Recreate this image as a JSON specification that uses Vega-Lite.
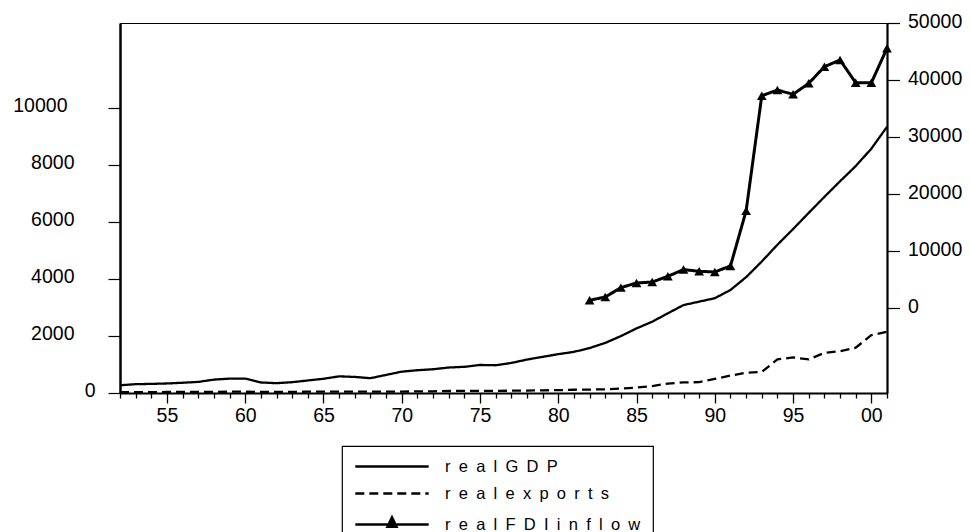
{
  "$schema": "https://vega.github.io/schema/vega-lite/v6.json",
  "autosize": "none",
  "width": 767,
  "height": 370,
  "padding": {"left": 120, "top": 23, "right": 83, "bottom": 139},
  "background": "white",
  "config": {
    "font": "Liberation Sans",
    "view": {"stroke": "black", "strokeWidth": 1},
    "axis": {"labelFont": "Liberation Sans", "labelFontSize": 19.5, "labelColor": "black", "tickColor": "black", "domainColor": "black", "grid": false, "title": null}
  },
  "data": {"values": [
    {"year":1952,"series":"real GDP","value":272},{"year":1953,"series":"real GDP","value":310},{"year":1954,"series":"real GDP","value":320},{"year":1955,"series":"real GDP","value":335},{"year":1956,"series":"real GDP","value":360},{"year":1957,"series":"real GDP","value":390},{"year":1958,"series":"real GDP","value":470},{"year":1959,"series":"real GDP","value":505},{"year":1960,"series":"real GDP","value":505},{"year":1961,"series":"real GDP","value":370},{"year":1962,"series":"real GDP","value":345},{"year":1963,"series":"real GDP","value":380},{"year":1964,"series":"real GDP","value":440},{"year":1965,"series":"real GDP","value":500},{"year":1966,"series":"real GDP","value":585},{"year":1967,"series":"real GDP","value":565},{"year":1968,"series":"real GDP","value":520},{"year":1969,"series":"real GDP","value":635},{"year":1970,"series":"real GDP","value":750},{"year":1971,"series":"real GDP","value":800},{"year":1972,"series":"real GDP","value":835},{"year":1973,"series":"real GDP","value":895},{"year":1974,"series":"real GDP","value":920},{"year":1975,"series":"real GDP","value":985},{"year":1976,"series":"real GDP","value":975},{"year":1977,"series":"real GDP","value":1055},{"year":1978,"series":"real GDP","value":1175},{"year":1979,"series":"real GDP","value":1270},{"year":1980,"series":"real GDP","value":1365},{"year":1981,"series":"real GDP","value":1445},{"year":1982,"series":"real GDP","value":1580},{"year":1983,"series":"real GDP","value":1760},{"year":1984,"series":"real GDP","value":2000},{"year":1985,"series":"real GDP","value":2270},{"year":1986,"series":"real GDP","value":2505},{"year":1987,"series":"real GDP","value":2800},{"year":1988,"series":"real GDP","value":3090},{"year":1989,"series":"real GDP","value":3210},{"year":1990,"series":"real GDP","value":3330},{"year":1991,"series":"real GDP","value":3620},{"year":1992,"series":"real GDP","value":4070},{"year":1993,"series":"real GDP","value":4620},{"year":1994,"series":"real GDP","value":5210},{"year":1995,"series":"real GDP","value":5760},{"year":1996,"series":"real GDP","value":6330},{"year":1997,"series":"real GDP","value":6890},{"year":1998,"series":"real GDP","value":7440},{"year":1999,"series":"real GDP","value":7970},{"year":2000,"series":"real GDP","value":8585},{"year":2001,"series":"real GDP","value":9350},
    {"year":1952,"series":"real exports","value":30},{"year":1953,"series":"real exports","value":30},{"year":1954,"series":"real exports","value":30},{"year":1955,"series":"real exports","value":35},{"year":1956,"series":"real exports","value":35},{"year":1957,"series":"real exports","value":40},{"year":1958,"series":"real exports","value":40},{"year":1959,"series":"real exports","value":45},{"year":1960,"series":"real exports","value":45},{"year":1961,"series":"real exports","value":40},{"year":1962,"series":"real exports","value":40},{"year":1963,"series":"real exports","value":40},{"year":1964,"series":"real exports","value":45},{"year":1965,"series":"real exports","value":50},{"year":1966,"series":"real exports","value":50},{"year":1967,"series":"real exports","value":50},{"year":1968,"series":"real exports","value":50},{"year":1969,"series":"real exports","value":50},{"year":1970,"series":"real exports","value":50},{"year":1971,"series":"real exports","value":55},{"year":1972,"series":"real exports","value":60},{"year":1973,"series":"real exports","value":70},{"year":1974,"series":"real exports","value":75},{"year":1975,"series":"real exports","value":75},{"year":1976,"series":"real exports","value":75},{"year":1977,"series":"real exports","value":80},{"year":1978,"series":"real exports","value":85},{"year":1979,"series":"real exports","value":95},{"year":1980,"series":"real exports","value":100},{"year":1981,"series":"real exports","value":115},{"year":1982,"series":"real exports","value":120},{"year":1983,"series":"real exports","value":130},{"year":1984,"series":"real exports","value":155},{"year":1985,"series":"real exports","value":190},{"year":1986,"series":"real exports","value":245},{"year":1987,"series":"real exports","value":330},{"year":1988,"series":"real exports","value":375},{"year":1989,"series":"real exports","value":380},{"year":1990,"series":"real exports","value":495},{"year":1991,"series":"real exports","value":610},{"year":1992,"series":"real exports","value":715},{"year":1993,"series":"real exports","value":740},{"year":1994,"series":"real exports","value":1180},{"year":1995,"series":"real exports","value":1250},{"year":1996,"series":"real exports","value":1180},{"year":1997,"series":"real exports","value":1410},{"year":1998,"series":"real exports","value":1470},{"year":1999,"series":"real exports","value":1590},{"year":2000,"series":"real exports","value":2035},{"year":2001,"series":"real exports","value":2150},
    {"year":1982,"series":"real FDI inflow","value":1280},{"year":1983,"series":"real FDI inflow","value":1870},{"year":1984,"series":"real FDI inflow","value":3510},{"year":1985,"series":"real FDI inflow","value":4330},{"year":1986,"series":"real FDI inflow","value":4500},{"year":1987,"series":"real FDI inflow","value":5500},{"year":1988,"series":"real FDI inflow","value":6680},{"year":1989,"series":"real FDI inflow","value":6380},{"year":1990,"series":"real FDI inflow","value":6260},{"year":1991,"series":"real FDI inflow","value":7320},{"year":1992,"series":"real FDI inflow","value":16990},{"year":1993,"series":"real FDI inflow","value":37220},{"year":1994,"series":"real FDI inflow","value":38220},{"year":1995,"series":"real FDI inflow","value":37470},{"year":1996,"series":"real FDI inflow","value":39400},{"year":1997,"series":"real FDI inflow","value":42320},{"year":1998,"series":"real FDI inflow","value":43500},{"year":1999,"series":"real FDI inflow","value":39500},{"year":2000,"series":"real FDI inflow","value":39500},{"year":2001,"series":"real FDI inflow","value":45560}
  ]},
  "encoding": {
    "x": {
      "field": "year", "type": "quantitative",
      "scale": {"domain": [1952, 2001], "nice": false, "zero": false},
      "axis": {
        "values": [1952,1953,1954,1955,1956,1957,1958,1959,1960,1961,1962,1963,1964,1965,1966,1967,1968,1969,1970,1971,1972,1973,1974,1975,1976,1977,1978,1979,1980,1981,1982,1983,1984,1985,1986,1987,1988,1989,1990,1991,1992,1993,1994,1995,1996,1997,1998,1999,2000,2001],
        "tickSize": {"condition": {"test": "datum.value % 5 == 0", "value": 10}, "value": 5},
        "tickWidth": 1.3,
        "domainWidth": 2,
        "labelExpr": "datum.value % 5 == 0 ? substring(toString(datum.value), 2) : ''",
        "labelOverlap": false,
        "labelFlush": false,
        "labelPadding": 3
      }
    }
  },
  "layer": [
    {
      "transform": [{"filter": "datum.series != 'real FDI inflow'"}],
      "mark": {"type": "line", "color": "black", "strokeWidth": 2.3},
      "encoding": {
        "y": {
          "field": "value", "type": "quantitative",
          "scale": {"domain": [0, 13000], "nice": false, "zero": false},
          "axis": {
            "orient": "left",
            "format": "d",
            "values": [0, 2000, 4000, 6000, 8000, 10000],
            "tickSize": 12,
            "tickWidth": 1.2,
            "domainWidth": 2.5,
            "labelOffset": -2.5,
            "labelPadding": {"condition": [{"test": "datum.value == 0", "value": 13}, {"test": "datum.value >= 10000", "value": 41}], "value": 34}
          }
        },
        "strokeDash": {
          "field": "series", "type": "nominal",
          "scale": {"domain": ["real GDP", "real exports", "real FDI inflow"], "range": [[1, 0], [9, 5], [1, 0]]},
          "legend": {
            "title": null,
            "orient": "none",
            "legendX": 222,
            "legendY": 423,
            "direction": "vertical",
            "strokeColor": "black",
            "padding": 12,
            "rowPadding": 10,
            "symbolSize": 207,
            "symbolStrokeWidth": 2.5,
            "symbolStrokeColor": "black",
            "symbolFillColor": "black",
            "labelFont": "Liberation Sans",
            "labelFontSize": 16.5,
            "labelColor": "black",
            "labelOffset": 74,
            "labelLimit": 400,
            "labelExpr": "replace(join(split(datum.label, ''), '\u2002'), regexp('\u2002 \u2002', 'g'), '\u2002')",
            "encode": {
              "legend": {"update": {"strokeWidth": {"value": 1.2}}},
              "symbols": {
                "update": {
                  "shape": {"signal": "datum.value == 'real FDI inflow' ? 'M-1,0H9.2M4.1,-1L4.72,0.3L3.48,0.3Z' : 'M-1,0H9.2'"},
                  "fill": {"value": "black"},
                  "stroke": {"value": "black"},
                  "strokeDash": {"signal": "datum.value == 'real exports' ? [13, 7] : [1, 0]"}
                }
              }
            }
          }
        }
      }
    },
    {
      "transform": [{"filter": "datum.series == 'real FDI inflow'"}],
      "layer": [
        {
          "mark": {"type": "line", "color": "black", "strokeWidth": 3},
          "encoding": {
            "y": {
              "field": "value", "type": "quantitative",
              "scale": {"domain": [-15000, 50000], "nice": false, "zero": false},
              "axis": {
                "orient": "right",
                "format": "d",
                "values": [0, 10000, 20000, 30000, 40000, 50000],
                "tickSize": 12.5,
                "tickWidth": 1.2,
                "domainWidth": 2.2,
                "labelOffset": -1.5,
                "labelPadding": 8
              }
            },
            "strokeDash": {"field": "series", "type": "nominal"}
          }
        },
        {
          "mark": {"type": "point", "shape": "triangle-up", "filled": true, "color": "black", "size": 95, "opacity": 1},
          "encoding": {
            "y": {"field": "value", "type": "quantitative"}
          }
        }
      ]
    }
  ],
  "resolve": {"scale": {"y": "independent"}}
}
